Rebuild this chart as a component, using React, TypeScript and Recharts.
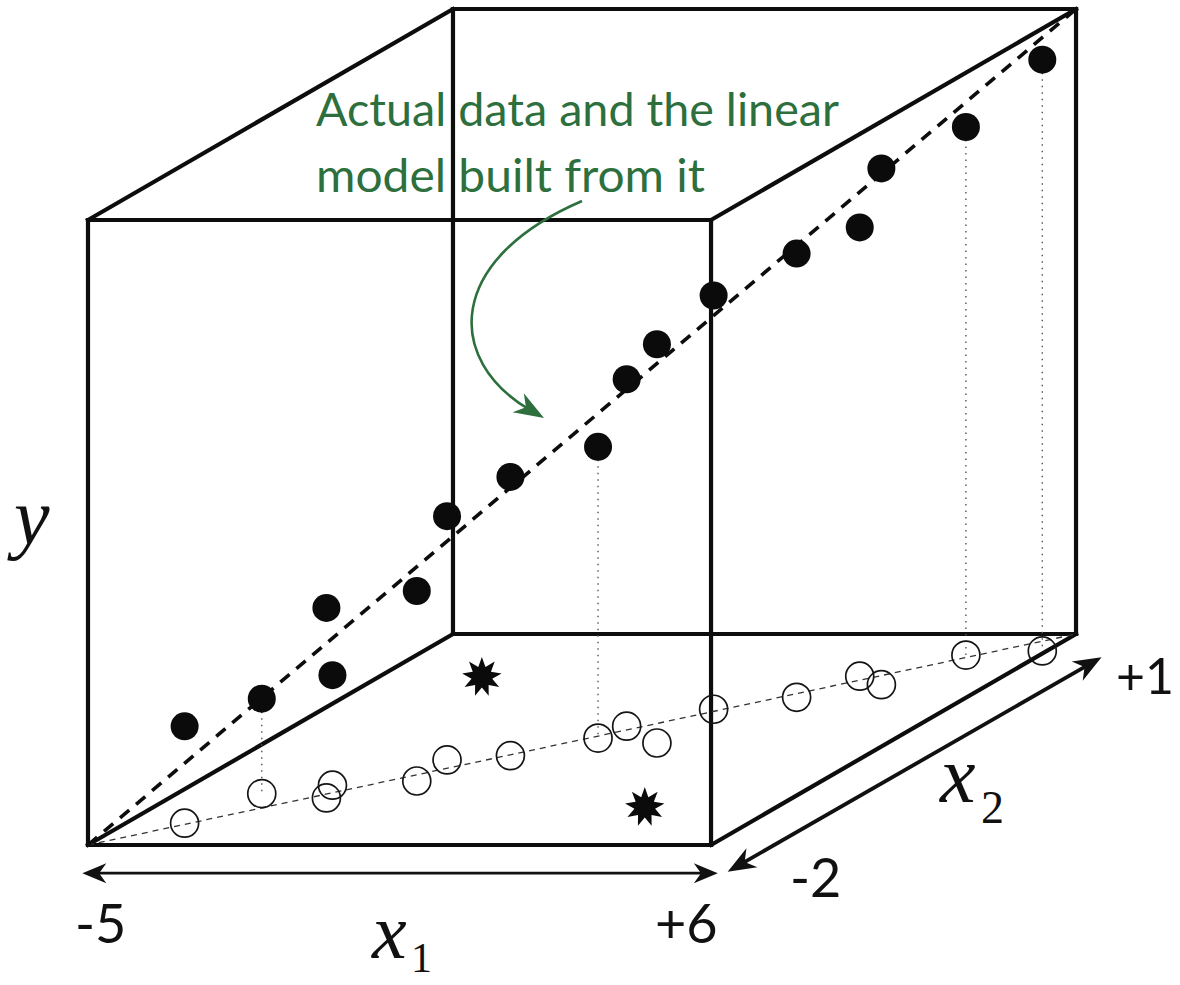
import React from 'react';
import { ScatterChart, XAxis, YAxis, Scatter, ReferenceLine } from 'recharts';

// Observations: two predictors (x1, x2) and the response y
const x1Values = [-3.96, -3.5, -2.23, -2.51, -1.15, -1.26, -0.27, 0.74, 0.88, 1.93, 1.9, 3.0, 3.47, 4.11, 4.7, 5.92];
const x2Values = [-1.69, -1.27, -1.33, -1.15, -1.09, -0.79, -0.73, -0.48, -0.31, -0.55, -0.07, 0.1, 0.4, 0.28, 0.7, 0.76];
const yValues = [1.55, 1.52, 3.04, 1.76, 3.04, 3.9, 4.46, 4.66, 5.55, 6.38, 6.62, 7.1, 7.18, 8.26, 8.45, 9.46];
// observations whose drop line to the floor is drawn
const droppedIdx = [1, 7, 14, 15];

// New inputs marked on the floor (x1, x2)
const starX1 = [-3.18, 3.67];
const starX2 = [0.39, -1.46];

// Box extents
const x1Range = [-5, 6];
const x2Range = [-2, 1];
const yRange = [0, 10];

// Fitted plane passes from the near-bottom-left corner to the far-top-right corner
const modelStart = [-5, -2, 0];
const modelEnd = [6, 1, 10];

// Axis end labels
const x1TickLabels = ['-5', '+6'];
const x2TickLabels = ['-2', '+1'];

// Oblique projection: one unit of x2 shifts the point right and up
const DEPTH_U = 2.148;
const DEPTH_V = 1.1253;
const project = (x1: number, x2: number, y: number) => ({
  u: x1 + DEPTH_U * (x2 - x2Range[0]),
  v: y + DEPTH_V * (x2 - x2Range[0]),
});

const filledPts = x1Values.map((x1, i) => project(x1, x2Values[i], yValues[i]));
const floorPts = x1Values.map((x1, i) => project(x1, x2Values[i], 0));
const starPts = starX1.map((x1, i) => project(x1, starX2[i], 0));

// 12 edges of the box
const cubeEdges: Array<[{ u: number; v: number }, { u: number; v: number }]> = [];
for (let c = 0; c < 8; c++) {
  for (let k = 0; k < 3; k++) {
    if (c & (1 << k)) continue;
    const d = c | (1 << k);
    const pick = (m: number) => [
      m & 1 ? x1Range[1] : x1Range[0],
      m & 2 ? x2Range[1] : x2Range[0],
      m & 4 ? yRange[1] : yRange[0],
    ];
    const a = pick(c);
    const b = pick(d);
    cubeEdges.push([project(a[0], a[1], a[2]), project(b[0], b[1], b[2])]);
  }
}

const seg = (a: { u: number; v: number }, b: { u: number; v: number }) => [
  { x: a.u, y: a.v },
  { x: b.u, y: b.v },
];

const headPath = (tx: number, ty: number, dx: number, dy: number, len: number, half: number) => {
  const bx = tx - dx * len;
  const by = ty - dy * len;
  const nx = -dy;
  const ny = dx;
  const notch = 0.7;
  return `M ${tx} ${ty} L ${bx + nx * half} ${by + ny * half} L ${tx - dx * len * notch} ${
    ty - dy * len * notch
  } L ${bx - nx * half} ${by - ny * half} Z`;
};

const makeDoubleArrow = (width: number, len: number, half: number) => (p: any) => {
  const { x1, y1, x2, y2 } = p;
  const L = Math.hypot(x2 - x1, y2 - y1) || 1;
  const dx = (x2 - x1) / L;
  const dy = (y2 - y1) / L;
  const inset = len * 0.6;
  return (
    <g>
      <line
        x1={x1 + dx * inset}
        y1={y1 + dy * inset}
        x2={x2 - dx * inset}
        y2={y2 - dy * inset}
        stroke="#111"
        strokeWidth={width}
      />
      <path d={headPath(x2, y2, dx, dy, len, half)} fill="#111" />
      <path d={headPath(x1, y1, -dx, -dy, len, half)} fill="#111" />
    </g>
  );
};

const FilledDot = (p: any) => <circle cx={p.cx} cy={p.cy} r={14} fill="#0b0b0b" />;
const OpenDot = (p: any) => (
  <circle cx={p.cx} cy={p.cy} r={14} fill="none" stroke="#151515" strokeWidth={1.7} />
);
const Star = (p: any) => {
  const pts: string[] = [];
  const n = 9;
  for (let i = 0; i < n * 2; i++) {
    const r = i % 2 === 0 ? 20 : 10.5;
    const a = -Math.PI / 2 + (i * Math.PI) / n;
    pts.push(`${p.cx + r * Math.cos(a)},${p.cy + r * Math.sin(a)}`);
  }
  return <polygon points={pts.join(' ')} fill="#0b0b0b" />;
};

const green = '#2d6f3d';
const labelFont = 'Lato, "Open Sans", sans-serif';
const mathFont = '"Liberation Serif", "DejaVu Serif", serif';

export default function App() {
  const ms = project(modelStart[0], modelStart[1], modelStart[2]);
  const me = project(modelEnd[0], modelEnd[1], modelEnd[2]);
  const fs = project(modelStart[0], modelStart[1], 0);
  const fe = project(modelEnd[0], modelEnd[1], 0);
  const x1ArrowA = project(-5.1, -2, -0.45);
  const x1ArrowB = project(6.12, -2, -0.45);
  const x2ArrowA = project(6.25, -1.98, -0.45);
  const x2ArrowB = project(6.3, 1.07, -0.45);

  return (
    <div style={{ position: 'absolute', left: 0, top: 0, width: 1180, height: 985, background: '#fff' }}>
      <ScatterChart width={1180} height={985} margin={{ top: 1.25, right: 15.84, bottom: 15, left: 88 }}>
        <XAxis type="number" dataKey="u" domain={[-5, 14]} allowDataOverflow hide />
        <YAxis type="number" dataKey="v" domain={[-2, 13.5]} allowDataOverflow hide />

        {cubeEdges.map((e, i) => (
          <ReferenceLine
            key={`edge-${i}`}
            segment={seg(e[0], e[1])}
            stroke="#0d0d0d"
            strokeWidth={4.2}
            strokeLinecap="square"
            ifOverflow="visible"
          />
        ))}

        <ReferenceLine
          segment={seg(fs, fe)}
          stroke="#333"
          strokeWidth={1.3}
          strokeDasharray="6 5"
          ifOverflow="visible"
        />

        {droppedIdx.map((i) => (
          <ReferenceLine
            key={`drop-${i}`}
            segment={seg(filledPts[i], floorPts[i])}
            stroke="#555"
            strokeWidth={1.4}
            strokeDasharray="1.5 5"
            ifOverflow="visible"
          />
        ))}

        <ReferenceLine
          segment={seg(x1ArrowA, x1ArrowB)}
          ifOverflow="visible"
          shape={makeDoubleArrow(2.6, 24, 10)}
        />
        <ReferenceLine
          segment={seg(x2ArrowA, x2ArrowB)}
          ifOverflow="visible"
          shape={makeDoubleArrow(3.8, 28, 11)}
        />

        <Scatter data={floorPts} shape={OpenDot} isAnimationActive={false} />

        <ReferenceLine
          segment={seg(ms, me)}
          stroke="#0d0d0d"
          strokeWidth={3.6}
          strokeDasharray="12 9"
          ifOverflow="visible"
        />

        <Scatter data={filledPts} shape={FilledDot} isAnimationActive={false} />
        <Scatter data={starPts} shape={Star} isAnimationActive={false} />
      </ScatterChart>

      <svg
        width={1180}
        height={985}
        style={{ position: 'absolute', left: 0, top: 0, pointerEvents: 'none' }}
      >
        <text x={316} y={126} fontFamily={labelFont} fontSize={47} fill={green} textLength={523} lengthAdjust="spacingAndGlyphs">
          Actual data and the linear
        </text>
        <text x={316} y={192} fontFamily={labelFont} fontSize={47} fill={green} textLength={389} lengthAdjust="spacingAndGlyphs">
          model built from it
        </text>
        <path d="M 582 201 C 445 260, 445 360, 530 410" fill="none" stroke={green} strokeWidth={2.6} />
        <path d={headPath(544, 418, 0.86, 0.51, 30, 11)} fill={green} />

        <text x={75} y={943} fontFamily={labelFont} fontSize={54} fill="#111">{x1TickLabels[0]}</text>
        <text x={655} y={943} fontFamily={labelFont} fontSize={54} fill="#111">{x1TickLabels[1]}</text>
        <text x={790} y={897} fontFamily={labelFont} fontSize={54} fill="#111">{x2TickLabels[0]}</text>
        <text x={1116} y={694} fontFamily={labelFont} fontSize={50} fill="#111">{x2TickLabels[1]}</text>

        <text x={14} y={544} fontFamily={mathFont} fontStyle="italic" fontSize={80} fill="#111">y</text>
        <text x={372} y={958} fontFamily={mathFont} fontStyle="italic" fontSize={78} fill="#111">x</text>
        <text x={411} y={972} fontFamily={mathFont} fontSize={42} fill="#111">1</text>
        <text x={940} y={802} fontFamily={mathFont} fontStyle="italic" fontSize={80} fill="#111">x</text>
        <text x={981} y={823} fontFamily={mathFont} fontSize={46} fill="#111">2</text>
      </svg>
    </div>
  );
}
